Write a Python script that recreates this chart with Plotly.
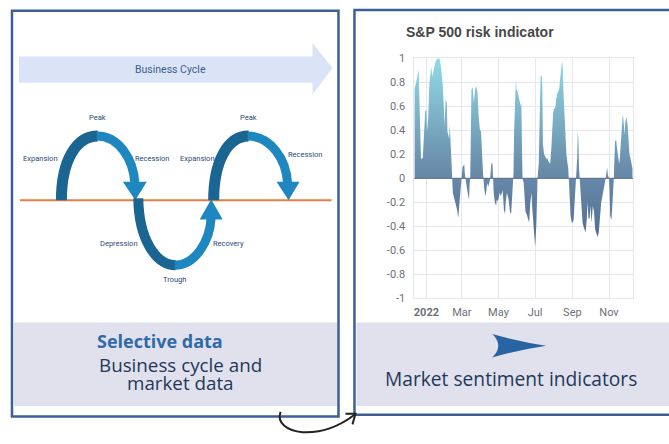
import plotly.graph_objects as go

W, H = 669, 444

# ---------------- data ----------------
dates = [
    "2021-12-12", "2021-12-15", "2021-12-19", "2021-12-22", "2021-12-23", "2021-12-26", "2021-12-29", "2021-12-30",
    "2022-01-01", "2022-01-02", "2022-01-04", "2022-01-06", "2022-01-09", "2022-01-11", "2022-01-13", "2022-01-16",
    "2022-01-19", "2022-01-23", "2022-01-25", "2022-01-28", "2022-01-30", "2022-01-31", "2022-02-02", "2022-02-04",
    "2022-02-05", "2022-02-08", "2022-02-09", "2022-02-10", "2022-02-12", "2022-02-14", "2022-02-18", "2022-02-21",
    "2022-02-23", "2022-02-25", "2022-02-26", "2022-03-01", "2022-03-02", "2022-03-05", "2022-03-06", "2022-03-09",
    "2022-03-11", "2022-03-13", "2022-03-14", "2022-03-15", "2022-03-17", "2022-03-19", "2022-03-21", "2022-03-23",
    "2022-03-25", "2022-03-27", "2022-03-29", "2022-03-31", "2022-04-02", "2022-04-03", "2022-04-05", "2022-04-07",
    "2022-04-09", "2022-04-11", "2022-04-12", "2022-04-14", "2022-04-17", "2022-04-19", "2022-04-21", "2022-04-22",
    "2022-04-23", "2022-04-25", "2022-04-27", "2022-04-28", "2022-04-30", "2022-05-02", "2022-05-03", "2022-05-05",
    "2022-05-08", "2022-05-10", "2022-05-12", "2022-05-13", "2022-05-15", "2022-05-18", "2022-05-20", "2022-05-22",
    "2022-05-23", "2022-05-25", "2022-05-26", "2022-05-27", "2022-05-29", "2022-05-30", "2022-05-31", "2022-06-02",
    "2022-06-04", "2022-06-07", "2022-06-08", "2022-06-09", "2022-06-10", "2022-06-12", "2022-06-13", "2022-06-15",
    "2022-06-17", "2022-06-19", "2022-06-21", "2022-06-23", "2022-06-25", "2022-06-26", "2022-06-28", "2022-06-30",
    "2022-07-01", "2022-07-03", "2022-07-04", "2022-07-05", "2022-07-07", "2022-07-09", "2022-07-10", "2022-07-12",
    "2022-07-13", "2022-07-14", "2022-07-16", "2022-07-18", "2022-07-20", "2022-07-21", "2022-07-23", "2022-07-25",
    "2022-07-26", "2022-07-28", "2022-07-30", "2022-07-31", "2022-08-02", "2022-08-04", "2022-08-05", "2022-08-07",
    "2022-08-10", "2022-08-11", "2022-08-13", "2022-08-15", "2022-08-16", "2022-08-17", "2022-08-19", "2022-08-20",
    "2022-08-22", "2022-08-24", "2022-08-25", "2022-08-26", "2022-08-28", "2022-08-29", "2022-08-31", "2022-09-01",
    "2022-09-03", "2022-09-05", "2022-09-06", "2022-09-07", "2022-09-09", "2022-09-10", "2022-09-11", "2022-09-12",
    "2022-09-13", "2022-09-15", "2022-09-16", "2022-09-18", "2022-09-20", "2022-09-21", "2022-09-23", "2022-09-25",
    "2022-09-26", "2022-09-28", "2022-09-30", "2022-10-01", "2022-10-03", "2022-10-05", "2022-10-07", "2022-10-09",
    "2022-10-11", "2022-10-13", "2022-10-15", "2022-10-16", "2022-10-18", "2022-10-19", "2022-10-21", "2022-10-23",
    "2022-10-24", "2022-10-26", "2022-10-28", "2022-10-29", "2022-10-30", "2022-11-01", "2022-11-02", "2022-11-03",
    "2022-11-05", "2022-11-07", "2022-11-08", "2022-11-09", "2022-11-11", "2022-11-13", "2022-11-14", "2022-11-16",
    "2022-11-18", "2022-11-19", "2022-11-21", "2022-11-22", "2022-11-24", "2022-11-25", "2022-11-27", "2022-11-28",
    "2022-11-30", "2022-12-02", "2022-12-03", "2022-12-05", "2022-12-07", "2022-12-09", "2022-12-10",
]
risk = [
    0.74, 0.80, 0.91, 0.20, 0.16, 0.17, 0.41, 0.56,
    0.57, 0.39, 0.50, 0.79, 0.93, 0.85, 0.90, 0.97,
    1.00, 1.00, 0.94, 0.79, 0.60, 0.43, 0.66, 0.63,
    0.39, 0.33, 0.45, 0.30, 0.03, -0.12, -0.20, -0.26,
    -0.33, -0.20, -0.10, 0.06, 0.09, 0.12, 0.04, -0.07,
    -0.12, -0.18, -0.04, 0.00, 0.74, 0.76, 0.63, 0.74,
    0.77, 0.72, 0.52, 0.41, 0.39, 0.22, 0.06, -0.07,
    -0.15, -0.10, -0.04, -0.07, -0.01, 0.12, 0.13, 0.00,
    -0.12, -0.20, -0.23, -0.18, -0.19, -0.15, -0.12, -0.15,
    -0.10, -0.26, -0.30, -0.20, -0.12, -0.18, -0.28, -0.30,
    -0.18, 0.00, 0.04, 0.39, 0.82, 0.83, 0.74, 0.72,
    0.67, 0.60, 0.64, 0.17, 0.00, -0.04, -0.15, -0.28,
    -0.30, -0.33, -0.37, -0.20, -0.12, -0.23, -0.34, -0.47,
    -0.57, -0.39, -0.18, 0.00, 0.12, 0.66, 0.85, 0.86,
    0.76, 0.28, 0.20, 0.18, 0.16, 0.17, 0.14, 0.13,
    0.12, 0.25, 0.52, 0.55, 0.58, 0.60, 0.66, 0.71,
    0.74, 0.82, 0.90, 0.98, 0.93, 0.74, 0.49, 0.31,
    0.20, 0.12, 0.09, 0.00, -0.18, -0.31, -0.37, -0.37,
    -0.35, -0.20, -0.04, 0.00, 0.17, 0.39, 0.33, 0.09,
    0.00, -0.12, -0.28, -0.37, -0.41, -0.42, -0.45, -0.34,
    -0.20, -0.34, -0.33, -0.23, -0.37, -0.23, -0.28, -0.43,
    -0.47, -0.49, -0.45, -0.37, -0.26, -0.20, -0.15, -0.10,
    -0.07, -0.01, 0.06, 0.09, 0.03, 0.00, -0.12, -0.31,
    -0.35, -0.20, -0.10, 0.00, 0.31, 0.32, 0.26, 0.20,
    0.12, 0.17, 0.33, 0.47, 0.54, 0.49, 0.36, 0.47,
    0.51, 0.44, 0.31, 0.20, 0.16, 0.12, 0.08,
]
y_tick_vals = [1, 0.8, 0.6, 0.4, 0.2, 0, -0.2, -0.4, -0.6, -0.8, -1]
y_tick_text = ["1", "0.8", "0.6", "0.4", "0.2", "0", "-0.2", "-0.4", "-0.6", "-0.8", "-1"]
x_tick_vals = ["2022-01-01", "2022-03-01", "2022-05-01", "2022-07-01", "2022-09-01", "2022-11-01"]
x_tick_text = ["<b>2022</b>", "Mar", "May", "Jul", "Sep", "Nov"]
chart_title = "S&P 500 risk indicator"
cycle_title = "Business Cycle"
cycle_labels = ["Peak", "Expansion", "Recession", "Expansion", "Peak", "Recession", "Depression", "Recovery", "Trough"]
left_caption = ["Selective data", "Business cycle and", "market data"]
right_caption = "Market sentiment indicators"


# ---------------- helpers (pixel -> paper) ----------------
def px(x):
    return x / W


def py(y):
    return 1 - y / H


def path(cmds):
    out = []
    for c in cmds:
        if isinstance(c, str):
            out.append(c)
        else:
            out.append(f"{px(c[0]):.5f},{py(c[1]):.5f}")
    return " ".join(out)


shapes = []
annotations = []


def rect(x0, y0, x1, y1, fill=None, line=None, lw=0, layer="below"):
    shapes.append(dict(type="rect", xref="paper", yref="paper", x0=px(x0), x1=px(x1), y0=py(y1), y1=py(y0),
                       fillcolor=fill or "rgba(0,0,0,0)", line=dict(color=line or "rgba(0,0,0,0)", width=lw),
                       layer=layer))


def pshape(cmds, fill=None, line=None, lw=0, layer="above"):
    shapes.append(dict(type="path", xref="paper", yref="paper", path=path(cmds),
                       fillcolor=fill or "rgba(0,0,0,0)", line=dict(color=line or "rgba(0,0,0,0)", width=lw),
                       layer=layer))


def text(x, y, s, size, color, family="Open Sans", xanchor="center"):
    annotations.append(dict(xref="paper", yref="paper", x=px(x), y=py(y), text=s, showarrow=False,
                            xanchor=xanchor, yanchor="middle", font=dict(size=size, color=color, family=family)))


# ---------------- panels ----------------
GREY = "#e1e1ee"
BORDER = "#3d6094"
rect(13, 326, 337, 412, fill=GREY)
rect(356, 326, 669, 412, fill=GREY)
rect(11, 5, 338, 423, line=BORDER, lw=2.5, layer="above")
rect(354, 4, 700, 421, line=BORDER, lw=2.5, layer="above")

# ---------------- business cycle diagram ----------------
pshape(["M", (18, 52), "L", (312, 52), "L", (312, 38), "L", (332, 64), "L", (312, 91), "L", (312, 79),
        "L", (18, 79), "Z"], fill="#dbe4f7", layer="above")
text(170, 65, cycle_title, 10.5, "#3b5c93", family="Liberation Sans Narrow, Roboto")

shapes.append(dict(type="line", xref="paper", yref="paper", x0=px(19), x1=px(331), y0=py(200), y1=py(200),
                   line=dict(color="#e57d45", width=2), layer="above"))

DARK = "#1b6592"
LIGHT = "#1f87bf"
# arch 1
pshape(["M", (60.5, 200), "C", (60.5, 160), (75, 134), (97, 134)], line=DARK, lw=11)
pshape(["M", (96, 134), "C", (118, 134), (133, 158), (134, 183)], line=LIGHT, lw=9)
pshape(["M", (122, 181), "L", (146, 181), "L", (134.5, 200), "Z"], fill=LIGHT)
# dip
pshape(["M", (137.5, 198), "C", (138, 240), (155, 267), (175, 267)], line=DARK, lw=10)
pshape(["M", (174, 267), "C", (195, 267), (209, 242), (210.5, 218)], line=LIGHT, lw=9)
pshape(["M", (199, 220), "L", (222, 220), "L", (210.5, 199), "Z"], fill=LIGHT)
# arch 2
pshape(["M", (213, 200), "C", (213, 160), (227, 134), (248, 134)], line=DARK, lw=11)
pshape(["M", (247, 134), "C", (270, 134), (286, 158), (287, 183)], line=LIGHT, lw=9)
pshape(["M", (276, 181), "L", (299, 181), "L", (288, 200), "Z"], fill=LIGHT)

label_pos = [(97, 115), (40, 157), (152, 157), (197, 157), (248, 115), (305, 153), (118, 245), (228, 245), (174, 282)]
for (lx, ly), s in zip(label_pos, cycle_labels):
    text(lx, ly, s, 7.5, "#2b4a7a", family="Liberation Sans Narrow, Roboto")

# captions
text(159, 345, f"<b>{left_caption[0]}</b>", 18, "#2f6aa7")
text(180, 369.5, left_caption[1], 18.8, "#1f3858")
text(180, 388.5, left_caption[2], 18.8, "#1f3858")
text(511, 384, right_caption, 19.2, "#1f3858")

# dart arrow
pshape(["M", (492, 338), "Q", (520, 346), (546, 350), "Q", (520, 354), (492, 362), "Q", (504, 350), (492, 338), "Z"],
       fill="#2864a2")

# connector arrow
pshape(["M", (280, 418), "C", (276, 429), (286, 438), (302, 439), "C", (322, 440), (340, 432), (354, 421)],
       line="#222222", lw=2)
pshape(["M", (345, 420), "L", (355, 420), "L", (352, 431)], line="#222222", lw=2)

# chart title
text(404, 27, f"<b>{chart_title}</b>", 14, "#474747", family="Liberation Sans, Arial", xanchor="left")

# zero line of chart
shapes.append(dict(type="line", xref="paper", yref="y", x0=px(414), x1=px(633), y0=0, y1=0,
                   line=dict(color="#56698a", width=1), layer="above"))

# ---------------- chart ----------------
fig = go.Figure()
fig.add_trace(go.Scatter(
    x=dates, y=risk, mode="lines", fill="tozeroy",
    line=dict(width=0, color="#6f93ad"),
    fillgradient=dict(type="vertical", colorscale=[[0, "#4d6690"], [0.45, "#6a8dab"], [1, "#90dbe8"]],
                      start=-0.6, stop=1.0),
    hoverinfo="skip", showlegend=False,
))

GRID = "#e4e7f0"
fig.update_layout(
    width=W, height=H,
    margin=dict(l=0, r=0, t=0, b=0),
    paper_bgcolor="white", plot_bgcolor="white",
    showlegend=False,
    shapes=shapes, annotations=annotations,
    xaxis=dict(domain=[px(414), px(633)], range=["2021-12-12", "2022-12-11"], type="date",
               tickvals=x_tick_vals, ticktext=x_tick_text, showgrid=True, gridcolor=GRID, gridwidth=1,
               showline=True, linecolor=GRID, mirror=True, ticks="", zeroline=False,
               tickfont=dict(size=11, color="#6e7079", family="Roboto"), ticklabelstandoff=4),
    yaxis=dict(domain=[py(301), py(54)], range=[-1, 1], tickvals=y_tick_vals, ticktext=y_tick_text,
               showgrid=True, gridcolor=GRID, gridwidth=1, showline=True, linecolor=GRID, mirror=True,
               ticks="", zeroline=False, tickfont=dict(size=11, color="#6e7079", family="Roboto"),
               ticklabelstandoff=6),
)

fig.write_html("out.html", config={"displayModeBar": False},
               post_script="document.body.style.margin='0';document.body.style.overflow='hidden';")
